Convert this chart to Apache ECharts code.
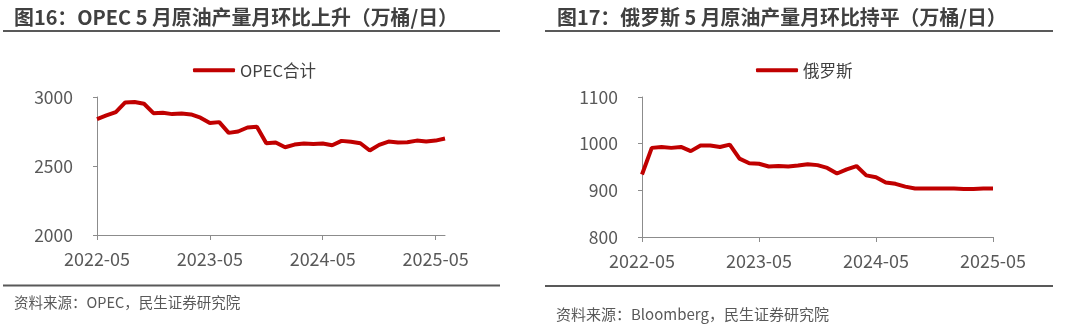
<!DOCTYPE html>
<html>
<head>
<meta charset="utf-8">
<script src="https://cdn.jsdelivr.net/npm/echarts@6/dist/echarts.min.js"></script>
<style>
  html, body { margin: 0; padding: 0; background: #ffffff; }
  #chart { width: 1080px; height: 328px; }
</style>
</head>
<body>
<div id="chart"></div>
<script>
// Monthly crude output, 10k barrels per day
const opecMonths = [
  '2022-05','2022-06','2022-07','2022-08','2022-09','2022-10','2022-11','2022-12',
  '2023-01','2023-02','2023-03','2023-04','2023-05','2023-06','2023-07','2023-08',
  '2023-09','2023-10','2023-11','2023-12','2024-01','2024-02','2024-03','2024-04',
  '2024-05','2024-06','2024-07','2024-08','2024-09','2024-10','2024-11','2024-12',
  '2025-01','2025-02','2025-03','2025-04','2025-05','2025-06'
];
const opecTotal = [
  2840, 2866, 2891, 2961, 2964, 2951, 2883, 2886, 2876, 2881, 2874, 2850, 2811,
  2818, 2740, 2750, 2779, 2784, 2665, 2670, 2636, 2655, 2663, 2660, 2663, 2650,
  2682, 2675, 2665, 2612, 2653, 2677, 2670, 2672, 2684, 2677, 2684, 2699
];

const russiaMonths = [
  '2022-05','2022-06','2022-07','2022-08','2022-09','2022-10','2022-11','2022-12',
  '2023-01','2023-02','2023-03','2023-04','2023-05','2023-06','2023-07','2023-08',
  '2023-09','2023-10','2023-11','2023-12','2024-01','2024-02','2024-03','2024-04',
  '2024-05','2024-06','2024-07','2024-08','2024-09','2024-10','2024-11','2024-12',
  '2025-01','2025-02','2025-03','2025-04','2025-05'
];
const russiaOutput = [
  934, 991, 993, 991, 993, 984, 996, 996, 993, 998, 968, 958, 957, 951, 952,
  951, 953, 956, 954, 948, 936, 945, 952, 932, 928, 917, 914, 908, 904, 904,
  904, 904, 904, 903, 903, 904, 904
];

const opecTicks = [2000, 2500, 3000];
const russiaTicks = [800, 900, 1000, 1100];

const FONT = '"Noto Sans CJK SC", "Noto Sans", sans-serif';
const RED = '#C00000';
const AXIS = '#8c8c8c';
const LABEL = '#595959';

const chart = echarts.init(document.getElementById('chart'), null, { renderer: 'canvas' });

function xAxisOf(cats, gridIndex) {
  return {
    type: 'category', gridIndex, data: cats, boundaryGap: false,
    axisLine: { lineStyle: { color: AXIS, width: 1 } },
    axisTick: { interval: 11, length: 5, lineStyle: { color: AXIS } },
    axisLabel: { interval: 11, color: LABEL, fontFamily: FONT, fontSize: 18, margin: 15 },
    splitLine: { show: false }
  };
}
function yAxisOf(ticks, gridIndex) {
  const step = ticks[1] - ticks[0];
  return {
    type: 'value', gridIndex, min: ticks[0], max: ticks[ticks.length - 1], interval: step,
    axisLine: { show: true, lineStyle: { color: AXIS, width: 1 } },
    axisTick: { show: true, length: 4, lineStyle: { color: AXIS } },
    axisLabel: {
      color: LABEL, fontFamily: FONT, fontSize: 17.5, margin: 24,
      formatter: (v) => String(v)
    },
    splitLine: { show: false }
  };
}
function legendOf(name, left) {
  return {
    data: [name], left, top: 57, icon: 'roundRect', itemWidth: 42, itemHeight: 4,
    textStyle: { color: '#404040', fontFamily: FONT, fontSize: 16.5 }
  };
}
function textEl(text, x, y, size, weight, color) {
  return {
    type: 'text', x, y,
    style: { text, font: `${weight} ${size}px ${FONT}`, fill: color, verticalAlign: 'middle', align: 'left' }
  };
}
function rule(x1, x2, y) {
  return { type: 'line', shape: { x1, y1: y, x2, y2: y }, style: { stroke: '#595959', lineWidth: 2 } };
}

chart.setOption({
  animation: false,
  backgroundColor: '#ffffff',
  grid: [
    { left: 97, top: 97, width: 348, height: 138 },
    { left: 642, top: 97, width: 351, height: 140 }
  ],
  legend: [legendOf('OPEC合计', 188), legendOf('俄罗斯', 751)],
  xAxis: [xAxisOf(opecMonths, 0), xAxisOf(russiaMonths, 1)],
  yAxis: [yAxisOf(opecTicks, 0), yAxisOf(russiaTicks, 1)],
  series: [
    {
      name: 'OPEC合计', type: 'line', xAxisIndex: 0, yAxisIndex: 0, data: opecTotal,
      showSymbol: false, symbol: 'none', lineStyle: { color: RED, width: 4 }, itemStyle: { color: RED }
    },
    {
      name: '俄罗斯', type: 'line', xAxisIndex: 1, yAxisIndex: 1, data: russiaOutput,
      showSymbol: false, symbol: 'none', lineStyle: { color: RED, width: 4 }, itemStyle: { color: RED }
    }
  ],
  graphic: [
    textEl('图16：OPEC 5 月原油产量月环比上升（万桶/日）', 14, 17, 19.9, 'bold', '#404040'),
    textEl('图17：俄罗斯 5 月原油产量月环比持平（万桶/日）', 557, 17, 19.9, 'bold', '#404040'),
    rule(3, 500, 31), rule(545, 1053, 31),
    rule(3, 500, 285.5), rule(545, 1053, 286),
    textEl('资料来源：OPEC，民生证券研究院', 14, 302, 14.5, 'normal', LABEL),
    textEl('资料来源：Bloomberg，民生证券研究院', 556, 314, 15, 'normal', LABEL)
  ]
});
</script>
</body>
</html>
